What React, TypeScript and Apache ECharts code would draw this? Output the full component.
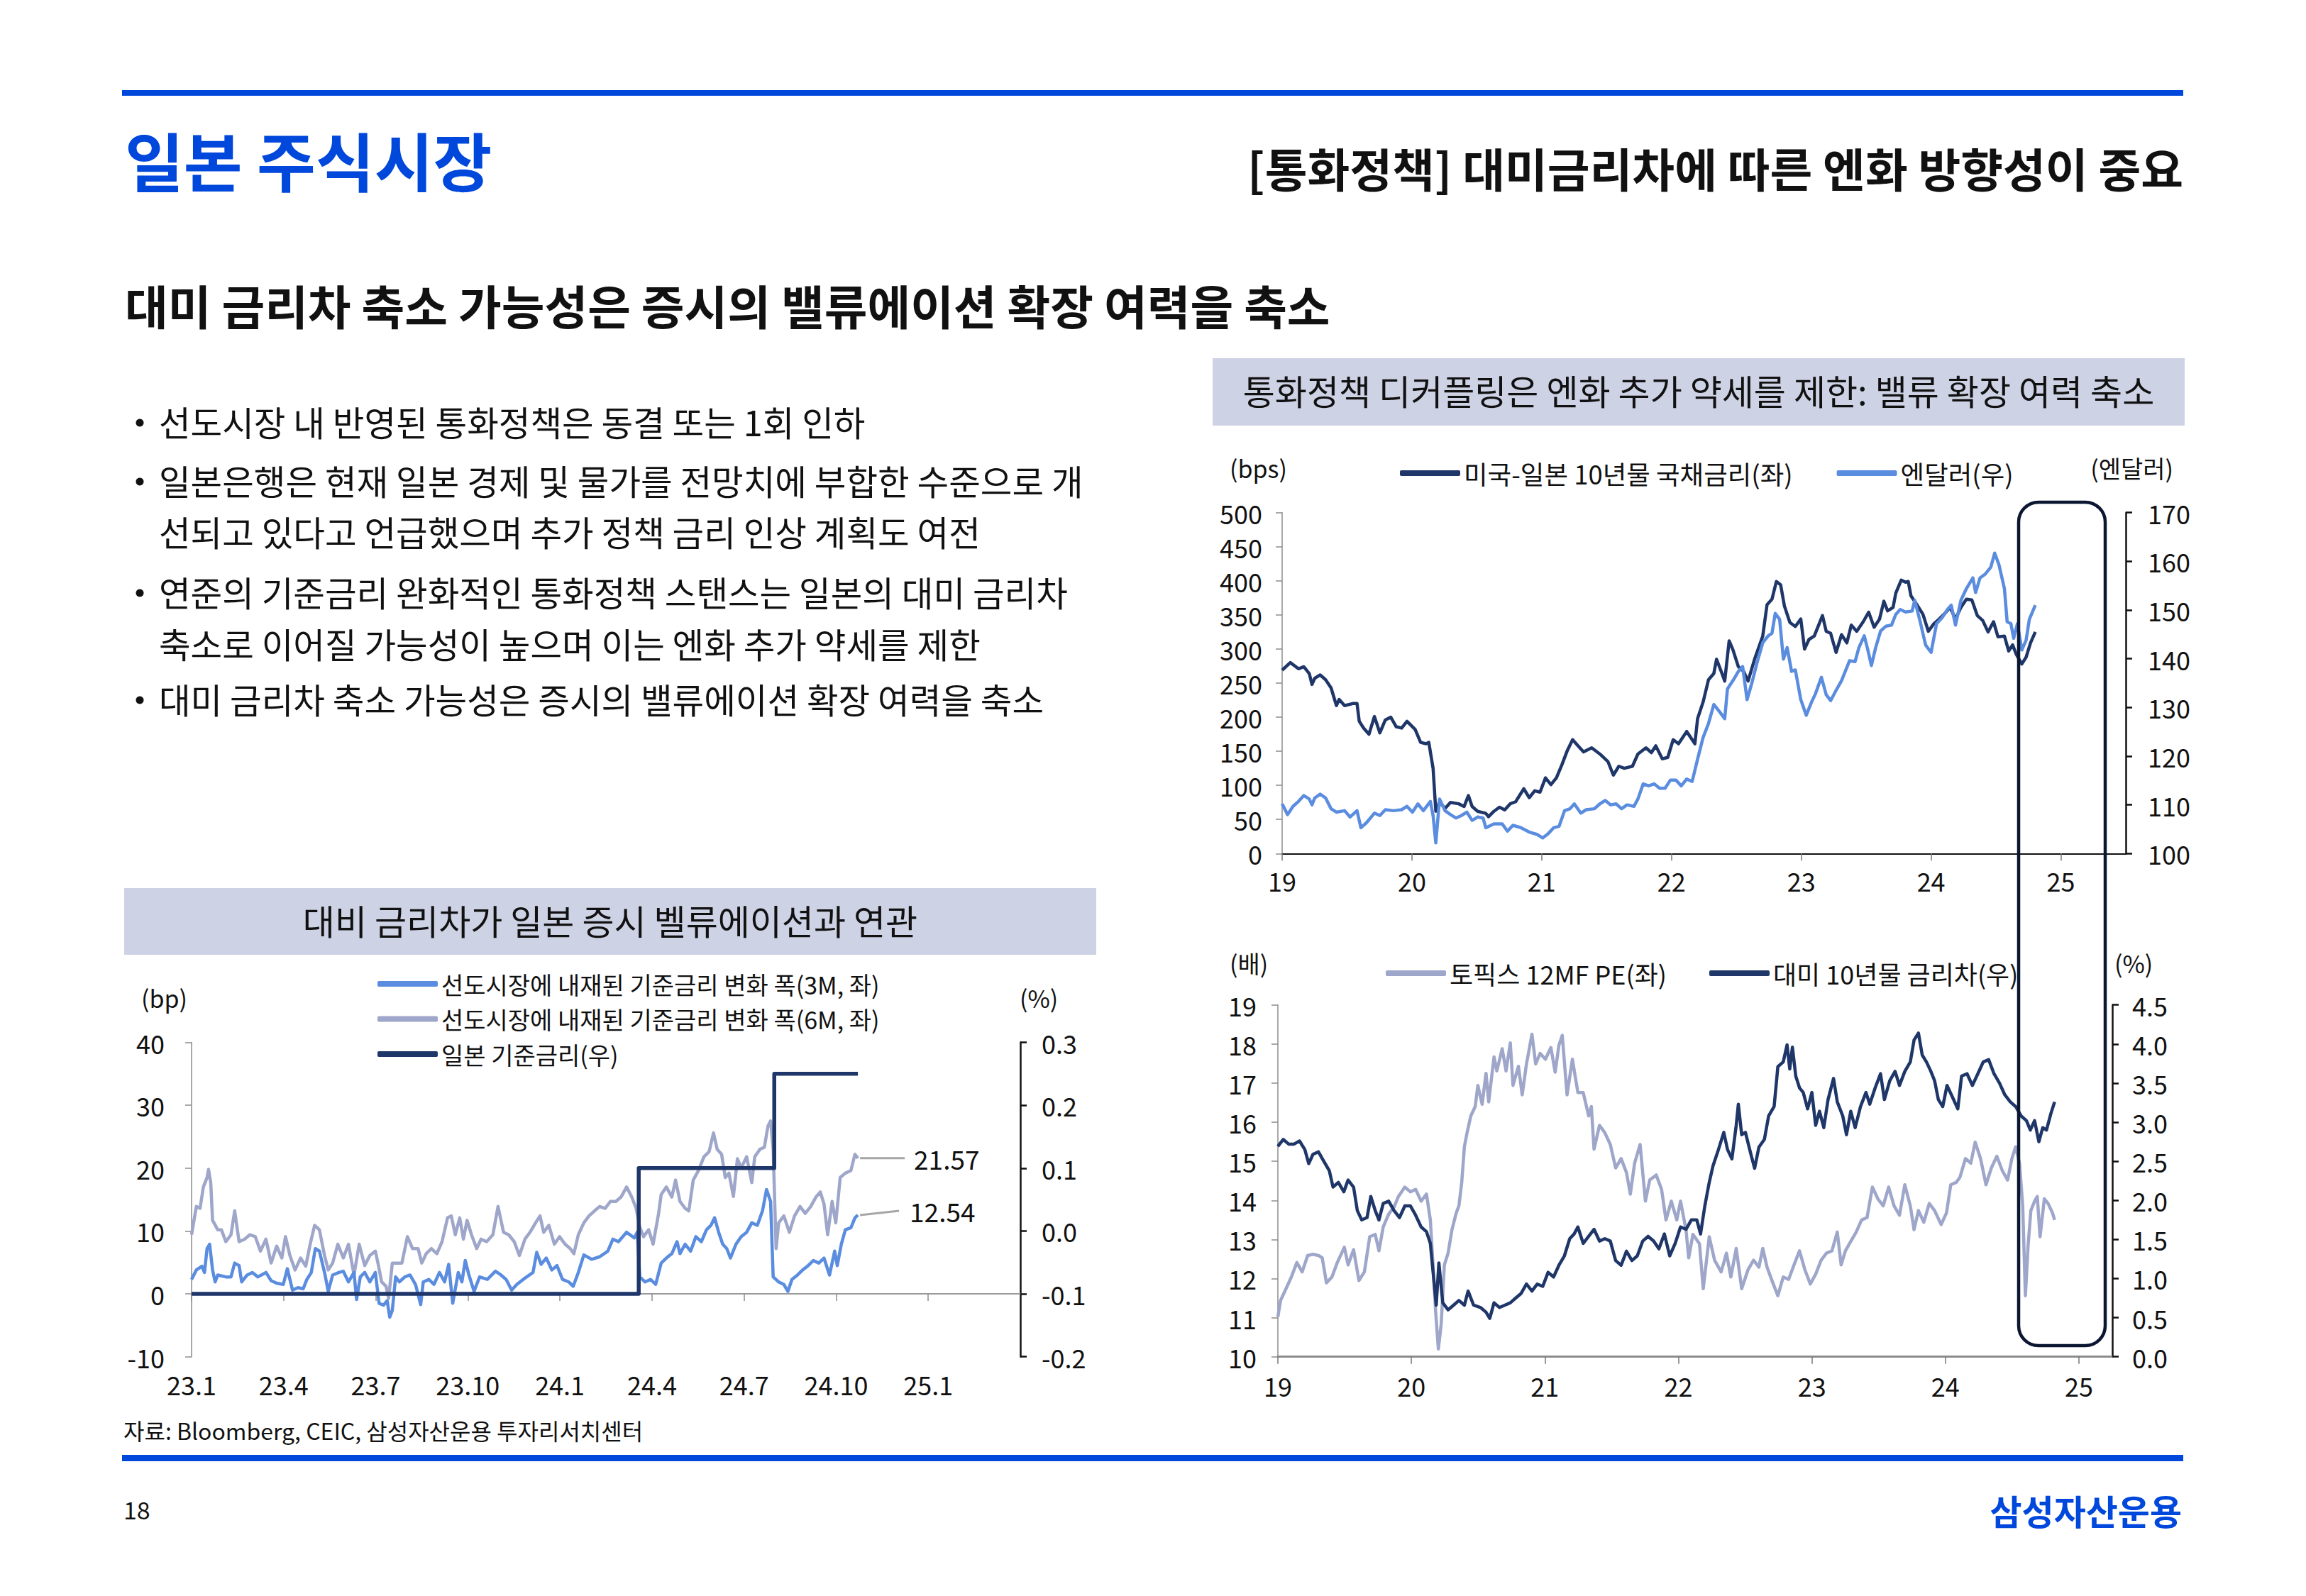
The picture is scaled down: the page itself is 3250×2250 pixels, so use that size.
import React, { useEffect, useRef } from 'react';
import * as echarts from 'echarts';

const FONT = '"Noto Sans CJK KR", "Noto Sans", sans-serif';
const NAVY = '#1F3669';
const BLUE = '#5A8CDF';
const LAV = '#9EA6CA';
const BRAND = '#0047DB';
const BOX = '#CED2E5';

// ---------- Left chart (x = decimal year) ----------
const leftTicks = [2023, 2023.25, 2023.5, 2023.75, 2024, 2024.25, 2024.5, 2024.75, 2025];
const fwd3M: [number, number][] = [
  [2023.000, 2.3], [2023.013, 3.8], [2023.028, 4.4], [2023.035, 3.4], [2023.042, 7.2], [2023.049, 7.9],
  [2023.057, 3.8], [2023.064, 1.9], [2023.071, 3.0], [2023.093, 2.7], [2023.107, 2.7], [2023.117, 4.9],
  [2023.129, 4.5], [2023.136, 1.9], [2023.151, 3.0], [2023.165, 3.4], [2023.180, 2.7], [2023.202, 3.4],
  [2023.216, 2.1], [2023.231, 1.7], [2023.249, 1.5], [2023.260, 4.0], [2023.274, 0.6], [2023.289, 1.0],
  [2023.303, 0.8], [2023.313, 2.3], [2023.325, 3.4], [2023.336, 7.2], [2023.347, 6.8], [2023.361, 3.4],
  [2023.371, 0.4], [2023.383, 3.0], [2023.400, 3.4], [2023.412, 3.6], [2023.426, 1.9], [2023.441, 3.4],
  [2023.448, -0.9], [2023.458, 2.7], [2023.470, 3.4], [2023.484, 1.9], [2023.499, 3.4], [2023.509, -1.5],
  [2023.521, -1.8], [2023.531, -1.1], [2023.538, -3.7], [2023.545, -2.6], [2023.554, 2.7], [2023.564, 1.9],
  [2023.579, 2.7], [2023.593, 3.0], [2023.608, 1.5], [2023.622, -1.7], [2023.629, 1.9], [2023.644, 2.3],
  [2023.658, 1.5], [2023.673, 3.4], [2023.687, 1.9], [2023.698, 4.7], [2023.709, -1.5], [2023.724, 3.4],
  [2023.734, 1.9], [2023.743, 5.3], [2023.753, 3.0], [2023.767, 0.4], [2023.782, 2.7], [2023.803, 2.3],
  [2023.825, 3.6], [2023.840, 3.0], [2023.854, 2.3], [2023.869, 0.6], [2023.883, 1.5], [2023.905, 2.5],
  [2023.927, 3.4], [2023.937, 6.6], [2023.949, 4.7], [2023.963, 5.7], [2023.978, 3.8], [2023.992, 4.5],
  [2024.007, 2.3], [2024.024, 1.9], [2024.036, 1.2], [2024.050, 3.4], [2024.065, 6.2], [2024.086, 5.5],
  [2024.108, 5.9], [2024.130, 6.8], [2024.144, 8.7], [2024.159, 8.3], [2024.181, 9.8], [2024.202, 8.9],
  [2024.210, 9.8], [2024.217, 2.7], [2024.231, 1.9], [2024.246, 2.3], [2024.260, 1.5], [2024.275, 4.9],
  [2024.289, 5.7], [2024.304, 6.4], [2024.318, 8.3], [2024.326, 6.4], [2024.340, 7.9], [2024.355, 6.8],
  [2024.369, 9.1], [2024.384, 8.3], [2024.398, 10.2], [2024.410, 10.9], [2024.420, 12.1], [2024.431, 9.8],
  [2024.442, 7.9], [2024.453, 7.2], [2024.463, 5.7], [2024.478, 7.9], [2024.492, 9.1], [2024.507, 9.8],
  [2024.521, 11.3], [2024.536, 10.9], [2024.550, 13.2], [2024.561, 16.6], [2024.572, 14.7], [2024.579, 2.7],
  [2024.594, 1.9], [2024.608, 1.5], [2024.619, 0.4], [2024.630, 2.3], [2024.645, 3.0], [2024.659, 3.8],
  [2024.674, 4.5], [2024.688, 5.3], [2024.703, 4.9], [2024.717, 5.7], [2024.732, 3.0], [2024.746, 6.8],
  [2024.753, 4.5], [2024.764, 7.9], [2024.775, 10.2], [2024.790, 10.5], [2024.801, 12.1], [2024.809, 12.54],
];
const fwd6M: [number, number][] = [
  [2023.000, 9.4], [2023.013, 13.9], [2023.023, 13.6], [2023.032, 17.0], [2023.042, 18.5], [2023.046, 19.8],
  [2023.052, 17.7], [2023.057, 11.7], [2023.071, 10.2], [2023.081, 10.2], [2023.093, 8.3], [2023.107, 9.4],
  [2023.117, 13.2], [2023.129, 8.3], [2023.144, 8.7], [2023.158, 9.4], [2023.173, 9.1], [2023.187, 6.8],
  [2023.202, 8.7], [2023.216, 4.9], [2023.231, 7.6], [2023.245, 5.7], [2023.255, 9.1], [2023.267, 6.1],
  [2023.281, 3.8], [2023.296, 5.7], [2023.310, 4.4], [2023.322, 7.9], [2023.334, 10.9], [2023.347, 10.2],
  [2023.361, 6.1], [2023.371, 3.8], [2023.383, 4.9], [2023.397, 7.9], [2023.412, 5.7], [2023.426, 7.9],
  [2023.441, 3.0], [2023.455, 7.9], [2023.470, 4.5], [2023.484, 6.1], [2023.499, 6.8], [2023.506, 4.9],
  [2023.516, 1.9], [2023.528, 1.2], [2023.535, -0.7], [2023.545, 4.9], [2023.560, 4.9], [2023.571, 4.9],
  [2023.586, 9.1], [2023.600, 7.2], [2023.615, 7.2], [2023.625, 4.9], [2023.637, 6.4], [2023.651, 7.2],
  [2023.666, 6.4], [2023.680, 8.3], [2023.695, 12.1], [2023.705, 12.4], [2023.716, 9.4], [2023.728, 12.1],
  [2023.738, 8.7], [2023.748, 11.7], [2023.760, 9.4], [2023.774, 7.2], [2023.786, 8.7], [2023.801, 8.3],
  [2023.818, 9.4], [2023.832, 13.9], [2023.847, 9.8], [2023.861, 9.4], [2023.876, 8.3], [2023.890, 6.1],
  [2023.905, 8.7], [2023.919, 9.8], [2023.934, 11.3], [2023.946, 12.4], [2023.956, 9.8], [2023.970, 10.9],
  [2023.985, 7.9], [2023.999, 9.1], [2024.014, 7.9], [2024.028, 7.2], [2024.038, 6.4], [2024.050, 9.4],
  [2024.065, 11.3], [2024.079, 12.4], [2024.094, 13.2], [2024.108, 13.9], [2024.123, 13.6], [2024.137, 14.7],
  [2024.152, 14.7], [2024.166, 15.4], [2024.181, 17.0], [2024.195, 15.4], [2024.207, 13.6], [2024.217, 10.6],
  [2024.227, 9.1], [2024.241, 10.2], [2024.253, 7.9], [2024.268, 12.8], [2024.275, 15.8], [2024.289, 17.0],
  [2024.304, 15.4], [2024.314, 18.1], [2024.326, 14.7], [2024.340, 13.6], [2024.350, 13.2], [2024.362, 18.1],
  [2024.376, 19.6], [2024.391, 21.8], [2024.405, 22.6], [2024.417, 25.6], [2024.427, 23.0], [2024.439, 22.2],
  [2024.449, 18.5], [2024.459, 19.2], [2024.471, 15.5], [2024.482, 21.5], [2024.492, 20.0], [2024.507, 21.8],
  [2024.521, 17.7], [2024.529, 21.8], [2024.543, 23.0], [2024.555, 23.3], [2024.565, 26.7], [2024.572, 27.5],
  [2024.579, 23.0], [2024.587, 7.2], [2024.594, 11.3], [2024.608, 12.4], [2024.623, 9.8], [2024.637, 12.4],
  [2024.652, 13.9], [2024.666, 12.8], [2024.681, 13.9], [2024.695, 15.4], [2024.707, 16.2], [2024.717, 14.3],
  [2024.727, 9.4], [2024.739, 14.7], [2024.749, 11.3], [2024.761, 18.5], [2024.775, 19.2], [2024.790, 19.6],
  [2024.801, 22.2], [2024.809, 21.57],
];
const bojRate: [number, number][] = [
  [2023.000, -0.1], [2024.214, -0.1], [2024.214, 0.1], [2024.582, 0.1], [2024.582, 0.25], [2024.809, 0.25],
];

// ---------- Top-right chart ----------
const usJpSpread: [number, number][] = [
  [2019.000, 269], [2019.063, 280], [2019.126, 271], [2019.167, 274], [2019.209, 264], [2019.230, 248],
  [2019.251, 257], [2019.293, 262], [2019.335, 255], [2019.377, 243], [2019.418, 217], [2019.439, 226],
  [2019.481, 217], [2019.544, 220], [2019.577, 220], [2019.594, 194], [2019.628, 184], [2019.669, 175],
  [2019.711, 201], [2019.753, 177], [2019.795, 196], [2019.837, 200], [2019.879, 186], [2019.921, 184],
  [2019.962, 194], [2020.025, 182], [2020.067, 163], [2020.109, 161], [2020.130, 163], [2020.163, 125],
  [2020.184, 62], [2020.213, 76], [2020.255, 66], [2020.297, 75], [2020.360, 73], [2020.402, 69],
  [2020.435, 85], [2020.464, 69], [2020.506, 62], [2020.569, 59], [2020.590, 54], [2020.632, 62],
  [2020.674, 68], [2020.715, 64], [2020.757, 73], [2020.799, 76], [2020.862, 95], [2020.904, 82],
  [2020.946, 92], [2020.987, 90], [2021.029, 111], [2021.071, 101], [2021.113, 111], [2021.155, 130],
  [2021.197, 151], [2021.238, 167], [2021.280, 158], [2021.322, 149], [2021.385, 155], [2021.448, 146],
  [2021.510, 135], [2021.552, 115], [2021.594, 128], [2021.636, 125], [2021.699, 128], [2021.741, 146],
  [2021.803, 155], [2021.845, 148], [2021.879, 158], [2021.929, 139], [2021.971, 141], [2022.013, 167],
  [2022.054, 161], [2022.117, 179], [2022.180, 161], [2022.201, 198], [2022.243, 222], [2022.285, 255],
  [2022.326, 264], [2022.347, 285], [2022.389, 264], [2022.410, 253], [2022.444, 312], [2022.473, 299],
  [2022.515, 274], [2022.556, 267], [2022.590, 253], [2022.640, 285], [2022.703, 319], [2022.736, 365],
  [2022.774, 373], [2022.808, 399], [2022.841, 394], [2022.870, 363], [2022.912, 339], [2022.954, 333],
  [2022.996, 344], [2023.025, 300], [2023.059, 314], [2023.100, 319], [2023.163, 349], [2023.192, 326],
  [2023.226, 323], [2023.268, 295], [2023.310, 321], [2023.351, 309], [2023.385, 335], [2023.427, 326],
  [2023.477, 340], [2023.519, 354], [2023.561, 332], [2023.603, 344], [2023.636, 370], [2023.665, 356],
  [2023.707, 361], [2023.728, 382], [2023.770, 401], [2023.803, 398], [2023.824, 399], [2023.845, 378],
  [2023.887, 366], [2023.937, 351], [2023.979, 326], [2024.021, 337], [2024.063, 344], [2024.105, 352],
  [2024.146, 361], [2024.188, 344], [2024.230, 361], [2024.272, 373], [2024.314, 372], [2024.356, 349],
  [2024.397, 342], [2024.439, 325], [2024.481, 340], [2024.515, 318], [2024.565, 319], [2024.598, 297],
  [2024.628, 306], [2024.657, 292], [2024.699, 278], [2024.732, 288], [2024.766, 309], [2024.803, 325],
];
const usdJpy: [number, number][] = [
  [2019.000, 110.2], [2019.042, 108.0], [2019.084, 109.7], [2019.126, 110.7], [2019.167, 111.9], [2019.209, 111.2],
  [2019.230, 110.0], [2019.251, 111.4], [2019.293, 112.2], [2019.335, 111.4], [2019.377, 109.2], [2019.418, 108.5],
  [2019.481, 108.8], [2019.523, 107.5], [2019.577, 108.8], [2019.607, 105.3], [2019.649, 106.3], [2019.711, 108.3],
  [2019.753, 107.8], [2019.795, 109.0], [2019.858, 108.8], [2019.921, 109.0], [2019.962, 109.7], [2020.004, 108.5],
  [2020.046, 110.2], [2020.088, 108.8], [2020.142, 110.7], [2020.163, 107.8], [2020.184, 102.2], [2020.213, 111.2],
  [2020.255, 108.8], [2020.297, 108.0], [2020.339, 107.3], [2020.381, 107.8], [2020.423, 108.5], [2020.464, 106.8],
  [2020.506, 107.5], [2020.548, 107.3], [2020.569, 105.3], [2020.632, 106.1], [2020.695, 106.1], [2020.736, 104.6],
  [2020.778, 105.8], [2020.841, 105.3], [2020.904, 104.4], [2020.967, 103.9], [2021.008, 103.2], [2021.050, 104.1],
  [2021.092, 105.3], [2021.134, 105.6], [2021.176, 108.8], [2021.218, 109.2], [2021.251, 110.2], [2021.301, 108.3],
  [2021.343, 109.0], [2021.406, 109.2], [2021.448, 110.2], [2021.490, 110.9], [2021.531, 110.0], [2021.573, 110.2],
  [2021.615, 109.2], [2021.657, 110.0], [2021.711, 109.7], [2021.741, 111.2], [2021.782, 114.3], [2021.824, 113.9],
  [2021.866, 114.3], [2021.908, 113.4], [2021.950, 113.4], [2021.992, 115.1], [2022.033, 115.1], [2022.075, 113.9],
  [2022.117, 115.3], [2022.159, 114.8], [2022.201, 119.4], [2022.243, 123.8], [2022.285, 126.7], [2022.326, 130.6],
  [2022.368, 129.2], [2022.410, 127.7], [2022.431, 133.8], [2022.473, 135.5], [2022.515, 137.4], [2022.548, 138.4],
  [2022.582, 131.6], [2022.619, 135.0], [2022.661, 139.4], [2022.703, 143.3], [2022.745, 144.7], [2022.774, 145.2],
  [2022.799, 149.3], [2022.833, 148.1], [2022.862, 139.9], [2022.891, 142.3], [2022.925, 137.4], [2022.954, 137.7],
  [2022.996, 131.6], [2023.038, 128.4], [2023.079, 131.1], [2023.109, 132.8], [2023.155, 136.2], [2023.192, 132.6],
  [2023.226, 131.4], [2023.268, 133.5], [2023.310, 135.5], [2023.343, 137.7], [2023.372, 139.6], [2023.414, 139.4],
  [2023.444, 142.3], [2023.485, 144.7], [2023.510, 142.1], [2023.540, 138.6], [2023.573, 142.3], [2023.611, 145.7],
  [2023.653, 146.7], [2023.695, 146.9], [2023.728, 149.1], [2023.762, 150.1], [2023.803, 149.6], [2023.854, 149.8],
  [2023.874, 152.0], [2023.916, 147.6], [2023.958, 142.8], [2024.000, 141.3], [2024.042, 147.2], [2024.084, 148.4],
  [2024.126, 150.1], [2024.155, 151.0], [2024.188, 146.9], [2024.230, 152.0], [2024.272, 154.4], [2024.322, 156.6],
  [2024.343, 153.6], [2024.377, 156.6], [2024.418, 157.4], [2024.460, 158.8], [2024.490, 161.7], [2024.523, 159.3],
  [2024.565, 154.4], [2024.586, 147.6], [2024.615, 147.2], [2024.636, 144.2], [2024.665, 147.2], [2024.699, 141.8],
  [2024.732, 143.8], [2024.757, 148.1], [2024.803, 151.0],
];

// ---------- Bottom-right chart ----------
const topixPE: [number, number][] = [
  [2019.000, 11.02], [2019.020, 11.44], [2019.061, 11.74], [2019.101, 12.04], [2019.142, 12.41], [2019.182, 12.17],
  [2019.223, 12.59], [2019.263, 12.62], [2019.304, 12.59], [2019.332, 12.53], [2019.364, 11.89], [2019.405, 12.04],
  [2019.445, 12.41], [2019.498, 12.80], [2019.526, 12.35], [2019.567, 12.74], [2019.607, 11.95], [2019.648, 12.17],
  [2019.688, 13.07], [2019.729, 13.13], [2019.757, 12.71], [2019.789, 13.32], [2019.830, 13.65], [2019.870, 13.83],
  [2019.903, 14.10], [2019.951, 14.34], [2019.992, 14.22], [2020.032, 14.28], [2020.073, 13.98], [2020.113, 14.16],
  [2020.142, 13.50], [2020.162, 12.35], [2020.182, 11.14], [2020.202, 10.20], [2020.223, 10.83], [2020.247, 12.35],
  [2020.275, 12.65], [2020.304, 13.25], [2020.336, 13.68], [2020.356, 13.86], [2020.377, 14.46], [2020.397, 15.37],
  [2020.417, 15.73], [2020.445, 16.16], [2020.478, 16.40], [2020.498, 16.94], [2020.530, 16.46], [2020.559, 17.25],
  [2020.579, 16.52], [2020.619, 17.67], [2020.640, 17.31], [2020.680, 17.88], [2020.709, 17.31], [2020.741, 18.03],
  [2020.761, 16.94], [2020.802, 17.43], [2020.830, 16.70], [2020.862, 17.49], [2020.903, 18.25], [2020.931, 17.49],
  [2020.964, 17.76], [2021.004, 17.61], [2021.045, 17.91], [2021.077, 17.28], [2021.105, 17.97], [2021.130, 18.22],
  [2021.166, 16.70], [2021.206, 17.61], [2021.247, 16.76], [2021.287, 16.76], [2021.328, 16.16], [2021.348, 16.40],
  [2021.368, 15.31], [2021.409, 15.92], [2021.449, 15.73], [2021.490, 15.43], [2021.530, 14.83], [2021.571, 15.07],
  [2021.611, 14.71], [2021.640, 14.16], [2021.672, 14.95], [2021.713, 15.43], [2021.753, 13.98], [2021.785, 14.52],
  [2021.834, 14.65], [2021.874, 14.28], [2021.907, 13.50], [2021.947, 13.98], [2021.988, 13.50], [2022.016, 13.98],
  [2022.057, 13.25], [2022.077, 12.53], [2022.109, 13.13], [2022.158, 12.89], [2022.186, 11.74], [2022.231, 13.07],
  [2022.271, 12.47], [2022.320, 12.17], [2022.360, 12.65], [2022.393, 12.04], [2022.433, 12.77], [2022.474, 11.74],
  [2022.522, 12.23], [2022.563, 12.47], [2022.603, 12.29], [2022.632, 12.77], [2022.664, 12.29], [2022.704, 11.92],
  [2022.745, 11.56], [2022.785, 12.04], [2022.826, 11.98], [2022.866, 12.35], [2022.907, 12.71], [2022.947, 12.23],
  [2022.988, 11.86], [2023.028, 12.11], [2023.069, 12.47], [2023.109, 12.65], [2023.150, 12.71], [2023.190, 13.19],
  [2023.219, 12.35], [2023.251, 12.71], [2023.291, 12.95], [2023.332, 13.19], [2023.372, 13.50], [2023.413, 13.56],
  [2023.453, 14.34], [2023.494, 14.04], [2023.534, 13.86], [2023.575, 14.34], [2023.615, 13.86], [2023.656, 13.62],
  [2023.696, 14.40], [2023.737, 13.86], [2023.765, 13.25], [2023.798, 13.74], [2023.838, 13.44], [2023.879, 13.92],
  [2023.919, 13.74], [2023.968, 13.38], [2024.008, 13.68], [2024.040, 14.40], [2024.081, 14.46], [2024.109, 14.59],
  [2024.150, 15.07], [2024.190, 14.95], [2024.223, 15.49], [2024.263, 15.07], [2024.304, 14.40], [2024.344, 14.83],
  [2024.385, 15.13], [2024.425, 14.77], [2024.466, 14.52], [2024.498, 15.07], [2024.526, 15.37], [2024.555, 14.95],
  [2024.579, 13.86], [2024.599, 11.56], [2024.619, 12.83], [2024.640, 13.74], [2024.668, 13.98], [2024.688, 14.10],
  [2024.709, 13.07], [2024.741, 14.04], [2024.769, 13.92], [2024.802, 13.68], [2024.818, 13.50],
];
const us10ySpread: [number, number][] = [
  [2019.000, 2.69], [2019.040, 2.78], [2019.081, 2.72], [2019.121, 2.72], [2019.162, 2.76], [2019.202, 2.65],
  [2019.231, 2.47], [2019.263, 2.59], [2019.304, 2.62], [2019.344, 2.50], [2019.385, 2.38], [2019.413, 2.17],
  [2019.453, 2.23], [2019.494, 2.11], [2019.526, 2.26], [2019.567, 2.17], [2019.595, 1.87], [2019.628, 1.75],
  [2019.668, 1.78], [2019.696, 2.05], [2019.729, 1.87], [2019.757, 1.75], [2019.789, 1.96], [2019.830, 1.99],
  [2019.870, 1.87], [2019.911, 1.78], [2019.951, 1.93], [2019.992, 1.93], [2020.032, 1.81], [2020.073, 1.66],
  [2020.113, 1.60], [2020.142, 1.45], [2020.166, 1.02], [2020.186, 0.66], [2020.206, 1.20], [2020.235, 0.69],
  [2020.275, 0.60], [2020.316, 0.66], [2020.356, 0.72], [2020.397, 0.66], [2020.425, 0.84], [2020.466, 0.66],
  [2020.518, 0.63], [2020.559, 0.57], [2020.587, 0.49], [2020.619, 0.69], [2020.660, 0.63], [2020.700, 0.66],
  [2020.741, 0.69], [2020.781, 0.75], [2020.822, 0.81], [2020.862, 0.93], [2020.903, 0.84], [2020.943, 0.93],
  [2020.984, 0.90], [2021.024, 1.08], [2021.065, 1.02], [2021.105, 1.17], [2021.146, 1.29], [2021.186, 1.51],
  [2021.219, 1.57], [2021.247, 1.66], [2021.287, 1.45], [2021.328, 1.54], [2021.368, 1.63], [2021.409, 1.48],
  [2021.449, 1.51], [2021.490, 1.48], [2021.530, 1.23], [2021.571, 1.17], [2021.611, 1.35], [2021.652, 1.23],
  [2021.692, 1.29], [2021.733, 1.48], [2021.773, 1.54], [2021.814, 1.48], [2021.854, 1.38], [2021.895, 1.57],
  [2021.935, 1.29], [2021.976, 1.45], [2022.016, 1.66], [2022.057, 1.63], [2022.097, 1.75], [2022.138, 1.75],
  [2022.166, 1.57], [2022.198, 1.93], [2022.231, 2.23], [2022.259, 2.44], [2022.300, 2.65], [2022.340, 2.87],
  [2022.368, 2.65], [2022.401, 2.53], [2022.433, 2.96], [2022.449, 3.23], [2022.474, 2.84], [2022.502, 2.87],
  [2022.543, 2.59], [2022.571, 2.41], [2022.603, 2.68], [2022.644, 2.78], [2022.676, 3.08], [2022.717, 3.20],
  [2022.745, 3.71], [2022.785, 3.77], [2022.814, 3.99], [2022.834, 3.68], [2022.854, 3.96], [2022.879, 3.59],
  [2022.907, 3.44], [2022.935, 3.38], [2022.968, 3.17], [2023.000, 3.38], [2023.028, 2.96], [2023.057, 3.14],
  [2023.089, 2.93], [2023.121, 3.29], [2023.162, 3.56], [2023.190, 3.26], [2023.231, 3.08], [2023.259, 2.84],
  [2023.291, 3.14], [2023.324, 2.93], [2023.364, 3.20], [2023.405, 3.38], [2023.433, 3.23], [2023.474, 3.44],
  [2023.514, 3.62], [2023.543, 3.29], [2023.583, 3.53], [2023.623, 3.65], [2023.656, 3.47], [2023.696, 3.65],
  [2023.737, 3.77], [2023.765, 4.05], [2023.798, 4.14], [2023.826, 3.86], [2023.858, 3.77], [2023.891, 3.65],
  [2023.919, 3.53], [2023.947, 3.29], [2023.980, 3.20], [2024.012, 3.47], [2024.053, 3.32], [2024.093, 3.17],
  [2024.121, 3.59], [2024.162, 3.62], [2024.202, 3.47], [2024.243, 3.62], [2024.283, 3.77], [2024.324, 3.80],
  [2024.364, 3.62], [2024.405, 3.50], [2024.445, 3.35], [2024.486, 3.26], [2024.526, 3.20], [2024.567, 3.08],
  [2024.607, 3.02], [2024.636, 2.90], [2024.668, 3.02], [2024.700, 2.75], [2024.729, 2.93], [2024.757, 2.90],
  [2024.790, 3.11], [2024.818, 3.26],
];

const yearTicks = [2019, 2020, 2021, 2022, 2023, 2024, 2025];

const bullets = [
  { text: '선도시장 내 반영된 통화정책은 동결 또는 1회 인하', dot: true },
  { text: '일본은행은 현재 일본 경제 및 물가를 전망치에 부합한 수준으로 개', dot: true },
  { text: '선되고 있다고 언급했으며 추가 정책 금리 인상 계획도 여전', dot: false },
  { text: '연준의 기준금리 완화적인 통화정책 스탠스는 일본의 대미 금리차', dot: true },
  { text: '축소로 이어질 가능성이 높으며 이는 엔화 추가 약세를 제한', dot: false },
  { text: '대미 금리차 축소 가능성은 증시의 밸류에이션 확장 여력을 축소', dot: true },
];
const bulletY = [594, 677, 749, 834, 907, 985];

const N3M = '선도시장에 내재된 기준금리 변화 폭(3M, 좌)';
const N6M = '선도시장에 내재된 기준금리 변화 폭(6M, 좌)';
const NBOJ = '일본 기준금리(우)';
const NSPR = '미국-일본 10년물 국채금리(좌)';
const NJPY = '엔달러(우)';
const NPE = '토픽스 12MF PE(좌)';
const NSP2 = '대미 10년물 금리차(우)';

function txt(text: string, x: number, y: number, size: number, opts: any = {}) {
  const align = opts.align || 'left';
  return {
    type: 'text',
    x,
    y,
    z: 50,
    style: {
      text,
      fontSize: size,
      fontFamily: FONT,
      fontWeight: opts.weight || 'normal',
      fill: opts.color || '#111',
      align,
      textAlign: align,
      verticalAlign: 'middle',
      textVerticalAlign: 'middle',
    },
  };
}

function buildGraphics() {
  const g: any[] = [];
  g.push({ type: 'rect', shape: { x: 172, y: 127, width: 2905, height: 8 }, style: { fill: BRAND } });
  g.push(txt('일본 주식시장', 176, 224, 90, { weight: 'bold', color: BRAND }));
  g.push(txt('[통화정책] 대미금리차에 따른 엔화 방향성이 중요', 3077, 236, 65, { weight: 'bold', align: 'right' }));
  g.push(txt('대미 금리차 축소 가능성은 증시의 밸류에이션 확장 여력을 축소', 176, 429, 66, { weight: 'bold' }));
  bullets.forEach((b, i) => {
    if (b.dot) g.push({ type: 'circle', shape: { cx: 197, cy: bulletY[i] + 2, r: 5.5 }, style: { fill: '#111' } });
    g.push(txt(b.text, 224, bulletY[i], 48.5));
  });
  // chart headers
  g.push({ type: 'rect', shape: { x: 175, y: 1252, width: 1370, height: 94 }, style: { fill: BOX } });
  g.push(txt('대비 금리차가 일본 증시 벨류에이션과 연관', 860, 1296, 49, { align: 'center' }));
  g.push({ type: 'rect', shape: { x: 1709, y: 505, width: 1370, height: 95 }, style: { fill: BOX } });
  g.push(txt('통화정책 디커플링은 엔화 추가 약세를 제한: 밸류 확장 여력 축소', 2394, 549, 49, { align: 'center' }));
  // unit labels
  g.push(txt('(bp)', 199, 1406, 34));
  g.push(txt('(%)', 1437, 1406, 34));
  g.push(txt('(bps)', 1733, 659, 34));
  g.push(txt('(엔달러)', 3063, 659, 34, { align: 'right' }));
  g.push(txt('(배)', 1733, 1357, 34));
  g.push(txt('(%)', 2980, 1357, 34));
  // highlight box
  g.push({
    type: 'rect',
    z: 60,
    shape: { x: 2845, y: 708, width: 122, height: 1189, r: 28 },
    style: { fill: 'none', stroke: '#0B1630', lineWidth: 4.5 },
  });
  // source & footer
  g.push(txt('자료: Bloomberg, CEIC, 삼성자산운용 투자리서치센터', 174, 2016, 32));
  g.push({ type: 'rect', shape: { x: 172, y: 2051, width: 2905, height: 9 }, style: { fill: BRAND } });
  g.push(txt('18', 174, 2127, 34));
  g.push(txt('삼성자산운용', 3075, 2128, 49, { weight: 'bold', color: BRAND, align: 'right' }));
  return g;
}

const axisLabelStyle = { color: '#111', fontSize: 36, fontFamily: FONT };
const grayLine = { color: '#8C8C8C', width: 1.5 };
const blackLine = { color: '#111', width: 2.5 };

function leftXLabel(v: number) {
  const y = Math.floor(v + 1e-6);
  const m = Math.round((v - y) * 12) + 1;
  return `${y % 100}.${m}`;
}

function line(name: string, data: [number, number][], color: string, xi: number, yi: number, width = 4.5) {
  return {
    name,
    type: 'line',
    xAxisIndex: xi,
    yAxisIndex: yi,
    data,
    color,
    showSymbol: false,
    symbol: 'none',
    lineStyle: { color, width, join: 'round' },
    emphasis: { disabled: true },
  };
}

function buildOption() {
  return {
    animation: false,
    backgroundColor: '#ffffff',
    textStyle: { fontFamily: FONT },
    grid: [
      { left: 270, top: 1469.5, width: 1168, height: 443.2, outerBoundsMode: 'none', containLabel: false },
      { left: 1807, top: 722.7, width: 1189, height: 480.6, outerBoundsMode: 'none', containLabel: false },
      { left: 1801, top: 1416.7, width: 1176, height: 496, outerBoundsMode: 'none', containLabel: false },
    ],
    legend: [
      {
        data: [N3M, N6M, NBOJ], orient: 'vertical', left: 527, top: 1362, itemWidth: 85, itemHeight: 8,
        itemGap: 9.5, icon: 'roundRect', textStyle: { fontSize: 34, color: '#111', lineHeight: 40, fontFamily: FONT },
      },
      {
        data: [NSPR, NJPY], orient: 'horizontal', left: 1968, top: 642, itemWidth: 85, itemHeight: 8,
        itemGap: 62, icon: 'roundRect', textStyle: { fontSize: 36.5, color: '#111', lineHeight: 40, fontFamily: FONT },
      },
      {
        data: [NPE, NSP2], orient: 'horizontal', left: 1948, top: 1347, itemWidth: 85, itemHeight: 8,
        itemGap: 60, icon: 'roundRect', textStyle: { fontSize: 36, color: '#111', lineHeight: 40, fontFamily: FONT },
      },
    ],
    xAxis: [
      {
        // axis line + ticks on the zero line of the left axis
        type: 'value', gridIndex: 0, position: 'bottom', min: 2023, max: 2025.25, interval: 0.25,
        axisLine: { show: true, onZero: true, onZeroAxisIndex: 0, lineStyle: { color: '#9A9A9A', width: 2 } },
        axisTick: { show: true, length: 10, customValues: leftTicks, lineStyle: { color: '#8C8C8C', width: 1.5 } },
        axisLabel: { show: false },
        splitLine: { show: false },
      },
      {
        type: 'value', gridIndex: 1, min: 2019, max: 2025.5,
        axisLine: { show: true, onZero: false, lineStyle: { color: '#111', width: 2 } },
        axisTick: { show: true, length: 10, customValues: yearTicks, lineStyle: { color: '#777', width: 1.5 } },
        axisLabel: { ...axisLabelStyle, margin: 20, customValues: yearTicks, formatter: (v: number) => String(Math.round(v) % 100) },
        splitLine: { show: false },
      },
      {
        type: 'value', gridIndex: 2, min: 2019, max: 2025.25,
        axisLine: { show: true, onZero: false, lineStyle: { color: '#8C8C8C', width: 3 } },
        axisTick: { show: true, length: 10, customValues: yearTicks, lineStyle: { color: '#777', width: 1.5 } },
        axisLabel: { ...axisLabelStyle, margin: 22, customValues: yearTicks, formatter: (v: number) => String(Math.round(v) % 100) },
        splitLine: { show: false },
      },
      {
        // labels of the left chart, along the bottom of its plot area
        type: 'value', gridIndex: 0, position: 'bottom', min: 2023, max: 2025.25, interval: 0.25,
        axisLine: { show: false, onZero: false }, axisTick: { show: false },
        axisLabel: { ...axisLabelStyle, margin: 20, customValues: leftTicks, formatter: leftXLabel },
        splitLine: { show: false },
      },
    ],
    yAxis: [
      {
        type: 'value', gridIndex: 0, position: 'left', min: -10, max: 40, interval: 10,
        axisLine: { show: true, lineStyle: grayLine }, axisTick: { show: true, length: 9, lineStyle: grayLine },
        axisLabel: { ...axisLabelStyle, margin: 38 }, splitLine: { show: false },
      },
      {
        type: 'value', gridIndex: 0, position: 'right', min: -0.2, max: 0.3, interval: 0.1,
        axisLine: { show: true, lineStyle: blackLine }, axisTick: { show: true, length: 9, lineStyle: blackLine },
        axisLabel: { ...axisLabelStyle, margin: 30, formatter: (v: number) => v.toFixed(1) }, splitLine: { show: false },
      },
      {
        type: 'value', gridIndex: 1, position: 'left', min: 0, max: 500, interval: 50,
        axisLine: { show: true, lineStyle: grayLine }, axisTick: { show: true, length: 9, lineStyle: grayLine },
        axisLabel: { ...axisLabelStyle, margin: 28 }, splitLine: { show: false },
      },
      {
        type: 'value', gridIndex: 1, position: 'right', min: 100, max: 170, interval: 10,
        axisLine: { show: true, lineStyle: blackLine }, axisTick: { show: true, length: 9, lineStyle: blackLine },
        axisLabel: { ...axisLabelStyle, margin: 31 }, splitLine: { show: false },
      },
      {
        type: 'value', gridIndex: 2, position: 'left', min: 10, max: 19, interval: 1,
        axisLine: { show: true, lineStyle: grayLine }, axisTick: { show: true, length: 9, lineStyle: grayLine },
        axisLabel: { ...axisLabelStyle, margin: 30 }, splitLine: { show: false },
      },
      {
        type: 'value', gridIndex: 2, position: 'right', min: 0, max: 4.5, interval: 0.5,
        axisLine: { show: true, lineStyle: blackLine }, axisTick: { show: true, length: 9, lineStyle: blackLine },
        axisLabel: { ...axisLabelStyle, margin: 28, formatter: (v: number) => v.toFixed(1) }, splitLine: { show: false },
      },
    ],
    series: [
      line(N6M, fwd6M, LAV, 0, 0),
      line(N3M, fwd3M, BLUE, 0, 0),
      line(NBOJ, bojRate, NAVY, 0, 1, 5.5),
      line(NSPR, usJpSpread, NAVY, 1, 2),
      line(NJPY, usdJpy, BLUE, 1, 3),
      line(NPE, topixPE, LAV, 2, 4),
      line(NSP2, us10ySpread, NAVY, 2, 5),
    ],
    graphic: { elements: buildGraphics() },
  };
}

export default function App() {
  const ref = useRef<HTMLDivElement>(null);
  useEffect(() => {
    if (!ref.current) return;
    const chart = echarts.init(ref.current, null, { renderer: 'svg', width: 3250, height: 2250 });
    chart.setOption(buildOption() as any);
    const last6 = fwd6M[fwd6M.length - 1];
    const last3 = fwd3M[fwd3M.length - 1];
    const p6 = chart.convertToPixel({ seriesIndex: 0 }, last6) as number[];
    const p3 = chart.convertToPixel({ seriesIndex: 1 }, last3) as number[];
    const annot: any[] = [];
    if (p6 && p3) {
      annot.push({ type: 'line', z: 40, shape: { x1: p6[0] + 3, y1: p6[1], x2: p6[0] + 66, y2: p6[1] }, style: { stroke: '#A6A6A6', lineWidth: 3 } });
      annot.push(txt(last6[1].toFixed(2), p6[0] + 79, p6[1], 37));
      annot.push({ type: 'line', z: 40, shape: { x1: p3[0] + 3, y1: p3[1], x2: p3[0] + 58, y2: p3[1] - 6 }, style: { stroke: '#A6A6A6', lineWidth: 3 } });
      annot.push(txt(last3[1].toFixed(2), p3[0] + 73, p3[1] - 6, 37));
    }
    chart.setOption({ graphic: { elements: [...buildGraphics(), ...annot] } } as any);
    return () => chart.dispose();
  }, []);
  return (
    <div
      ref={ref}
      style={{ position: 'fixed', left: 0, top: 0, width: 3250, height: 2250, background: '#fff' }}
    />
  );
}
